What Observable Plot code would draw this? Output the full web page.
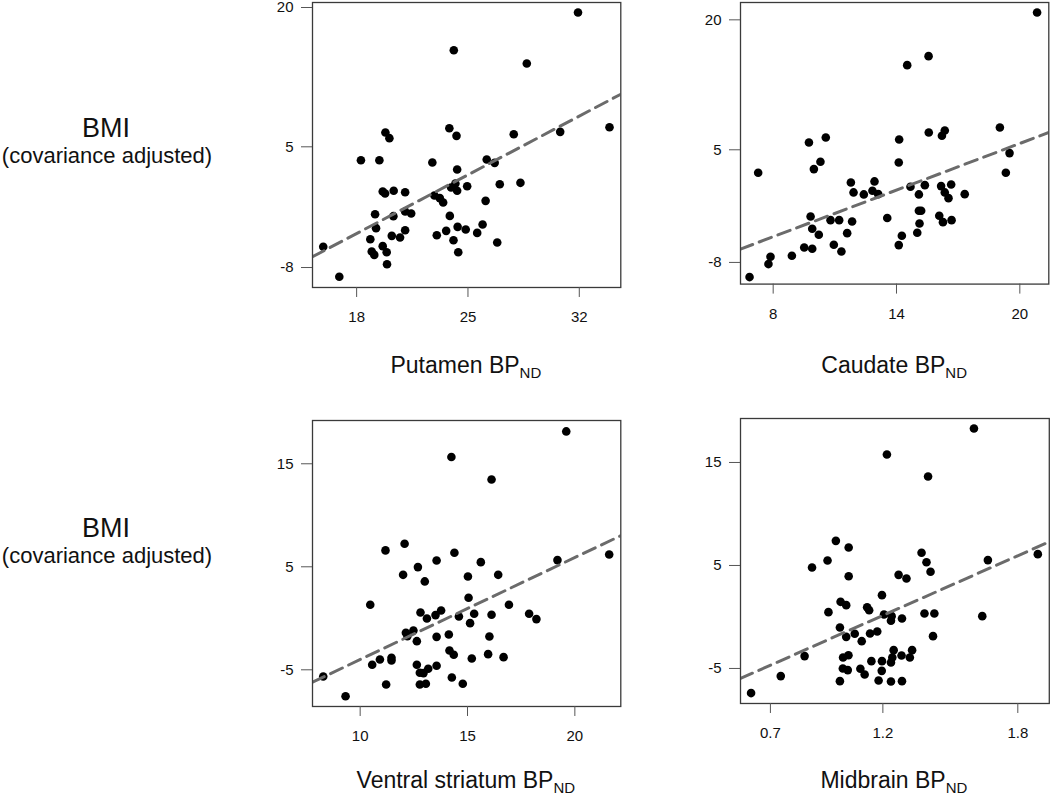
<!DOCTYPE html>
<html>
<head>
<meta charset="utf-8">
<script src="https://cdn.jsdelivr.net/npm/d3@7"></script>
<script src="https://cdn.jsdelivr.net/npm/@observablehq/plot@0.6"></script>
<style>
html, body { margin: 0; padding: 0; background: #fff; }
#chart { position: relative; width: 1050px; height: 798px; overflow: hidden;
  font-family: "Liberation Sans", Arial, Helvetica, sans-serif; }
#chart svg { position: absolute; }
</style>
</head>
<body>
<div id="chart"></div>
<script>
// ---- data ----
const panelNames = ["Putamen", "Caudate", "Ventral striatum", "Midbrain"];

const putamenBP = [15.90,16.91,18.27,19.43,19.81,20.06,19.64,19.79,20.33,21.05,19.16,20.31,19.22,21.05,21.43,21.05,18.86,20.21,20.73,19.64,18.95,19.11,19.89,19.91,22.76,22.89,23.44,23.23,23.86,23.04,23.63,24.09,24.39,24.35,24.86,25.58,25.92,26.84,23.83,24.28,24.32,24.11,23.94,24.21,24.32,24.95,26.11,26.18,26.68,27.0,27.88,28.30,28.70,31.92,30.80,33.9];
const putamenBMI = [-5.77,-9.0,3.56,3.56,6.54,5.93,0.18,-0.03,0.26,0.11,-2.26,-2.47,-3.76,-1.97,-2.18,-3.98,-4.95,-4.59,-4.77,-5.70,-6.28,-6.64,-6.35,-7.64,3.31,-0.25,-1.0,-0.53,-2.44,-4.52,-4.05,-5.06,-6.35,-3.62,-3.91,-4.27,-3.37,-5.31,7.0,6.18,2.55,15.40,0.62,1.05,0.26,0.76,-0.82,3.63,3.27,0.97,6.36,1.12,13.97,19.46,6.61,7.1];

const caudateBP = [20.84,14.52,15.56,19.03,15.57,16.35,16.21,14.13,10.56,9.74,19.50,14.11,10.30,9.98,7.27,19.32,11.78,12.93,11.91,12.41,12.83,13.11,14.68,15.38,15.09,16.17,16.66,16.35,16.53,17.32,9.82,9.90,10.22,10.79,11.21,11.84,11.60,10.95,11.32,9.51,9.90,8.91,7.87,7.77,6.85,13.55,15.09,15.20,15.12,15.01,14.26,14.11,16.08,16.26,16.68];
const caudateBMI = [20.85,14.77,15.81,7.58,7.0,7.23,6.62,6.19,6.42,5.85,4.62,3.54,3.62,2.77,2.35,2.35,1.23,1.35,0.08,-0.15,0.27,-0.12,0.73,0.92,-0.15,0.81,1.0,0.08,-0.58,-0.12,-2.69,-4.12,-4.81,-3.12,-3.12,-3.27,-4.62,-5.96,-6.73,-6.27,-6.42,-7.23,-7.35,-8.19,-9.69,-2.88,-2.04,-2.04,-3.50,-4.58,-4.92,-6.0,-2.62,-3.35,-3.12];

const ventralBP = [14.25,16.12,12.07,11.18,14.39,13.56,15.62,12.69,12.0,15.02,16.43,13.01,10.47,15.05,16.93,12.81,13.11,13.51,13.77,14.60,15.31,15.12,16.12,17.87,18.21,12.13,12.20,12.48,12.64,13.56,14.13,16.02,14.16,14.36,15.20,15.96,16.68,10.56,10.92,11.46,11.46,12.64,13.56,12.78,12.95,13.17,11.21,12.78,13.06,14.27,14.78,8.28,9.32,19.60,19.19,21.6];
const ventralBMI = [15.65,13.48,7.23,6.59,6.36,5.61,5.45,4.97,4.22,4.06,4.22,3.58,1.31,1.99,1.31,0.57,-0.02,0.31,0.76,0.18,0.44,-0.47,0.34,0.44,-0.08,-1.41,-1.73,-1.18,-2.22,-1.80,-1.57,-1.76,-3.12,-3.54,-3.90,-3.48,-3.77,-4.51,-4.0,-3.83,-4.09,-4.51,-4.61,-5.29,-5.32,-4.90,-6.42,-6.42,-6.36,-5.74,-6.36,-5.65,-7.56,18.14,5.65,6.2];

const midbrainBP = [1.605,1.218,1.401,0.991,1.048,0.954,0.885,1.048,1.372,1.394,1.412,1.667,1.889,1.270,1.305,1.196,1.012,1.037,0.958,1.130,1.139,1.205,1.239,1.236,1.285,1.385,1.429,1.642,1.009,1.037,1.075,1.106,1.143,1.175,1.423,0.852,1.023,1.047,1.022,1.044,1.100,1.119,1.149,1.196,1.195,1.236,1.242,1.248,1.283,1.320,1.330,1.009,1.181,1.236,1.285,0.746,0.614];
const midbrainBMI = [18.30,15.78,13.64,7.39,6.75,5.49,4.81,3.96,6.23,5.32,4.39,5.52,6.10,4.09,3.74,2.12,1.47,1.15,0.47,0.95,0.66,0.24,0.08,-0.37,-0.15,0.34,0.34,0.08,-1.02,-1.93,-1.63,-2.35,-1.60,-1.41,-1.86,-3.80,-3.93,-3.71,-5.0,-5.16,-5.03,-5.58,-4.29,-4.29,-5.23,-4.42,-3.93,-3.22,-3.74,-3.93,-3.22,-6.23,-6.17,-6.26,-6.23,-5.74,-7.39];

const xTicks = [[18, 25, 32], [8, 14, 20], [10, 15, 20], [0.7, 1.2, 1.8]];
const yTicks = [[-8, 5, 20], [-8, 5, 20], [-5, 5, 15], [-5, 5, 15]];
const xDomains = [[15.225, 34.61], [6.41, 21.41], [7.78, 22.14], [0.567, 1.94]];
const yDomains = [[-10.15, 20.54], [-10.5, 22.0], [-8.56, 19.2], [-8.40, 19.27]];
const fitIntercept = [-20.59, -12.21, -13.90, -11.45];
const fitSlope = [0.903, 0.897, 0.99, 9.665];

const yLabel = "BMI";
const ySubLabel = "(covariance adjusted)";
const xLabelSuffix = "BP";
const xLabelSub = "ND";

// ---- layout ----
const series = [
  [putamenBP, putamenBMI],
  [caudateBP, caudateBMI],
  [ventralBP, ventralBMI],
  [midbrainBP, midbrainBMI]
];
const frames = [
  {left: 311.7, top: 1.7, right: 620, bottom: 286.7},
  {left: 740, top: 1.7, right: 1048.3, bottom: 283.3},
  {left: 311.7, top: 420, right: 620, bottom: 706},
  {left: 739.5, top: 418.3, right: 1048.3, bottom: 703.3}
];
const FONT = '"Liberation Sans", Arial, Helvetica, sans-serif';
const ML = 70, MR = 2, MT = 2, MB = 50;
const chart = document.getElementById("chart");
const fmt = d => String(d);

series.forEach(([xs, ys], i) => {
  const f = frames[i];
  const data = xs.map((x, j) => ({x, y: ys[j]}));
  const fit = xDomains[i].map(x => ({x, y: fitIntercept[i] + fitSlope[i] * x}));
  const plot = Plot.plot({
    width: f.right - f.left + ML + MR,
    height: f.bottom - f.top + MT + MB,
    marginLeft: ML, marginRight: MR, marginTop: MT, marginBottom: MB,
    x: {domain: xDomains[i]},
    y: {domain: yDomains[i]},
    style: {fontSize: "15px", fontFamily: FONT, color: "#000", background: "transparent", overflow: "visible"},
    marks: [
      Plot.dot(data, {x: "x", y: "y", r: 4.3, fill: "#000", stroke: "none"}),
      Plot.line(fit, {x: "x", y: "y", stroke: "#6b6b6b", strokeWidth: 3, strokeDasharray: "13,7", clip: true}),
      Plot.frame({stroke: "#3a3a3a", strokeWidth: 1.3}),
      Plot.axisX({ticks: xTicks[i], tickSize: 10, tickPadding: 14, tickFormat: fmt, label: null, stroke: "#555", fill: "#111", fontSize: 15}),
      Plot.axisY({ticks: yTicks[i], tickSize: 11, tickPadding: 8, tickFormat: fmt, label: null, stroke: "#555", fill: "#111", fontSize: 15})
    ]
  });
  plot.style.left = (f.left - ML) + "px";
  plot.style.top = (f.top - MT) + "px";
  chart.appendChild(plot);
});

// ---- text labels (overlay) ----
const svg = d3.select(chart).append("svg")
  .attr("width", 1050).attr("height", 798)
  .style("left", "0px").style("top", "0px").style("pointer-events", "none")
  .attr("font-family", FONT).attr("fill", "#111");

[[137.3, 163.3], [537, 562.7]].forEach(([b1, b2]) => {
  svg.append("text").attr("x", 106).attr("y", b1).attr("text-anchor", "middle")
    .attr("font-size", 27).text(yLabel);
  svg.append("text").attr("x", 107).attr("y", b2).attr("text-anchor", "middle")
    .attr("font-size", 22).text(ySubLabel);
});

const titleBaselines = [373, 373, 788, 788];
frames.forEach((f, i) => {
  const t = svg.append("text")
    .attr("x", (f.left + f.right) / 2).attr("y", titleBaselines[i])
    .attr("text-anchor", "middle").attr("font-size", 23);
  t.append("tspan").text(panelNames[i] + " " + xLabelSuffix);
  t.append("tspan").attr("dy", 5).attr("font-size", 15).text(xLabelSub);
});
</script>
</body>
</html>
